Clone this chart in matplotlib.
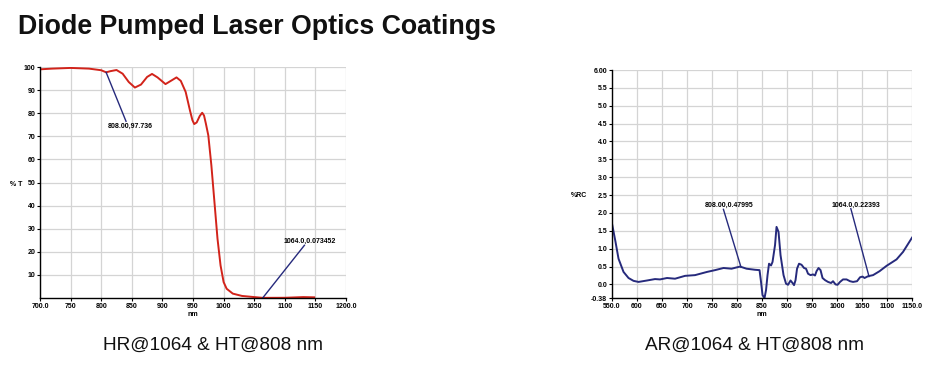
#!/usr/bin/env python3
"""Diode pumped laser optics coatings: HR/HT transmission and AR reflection curves."""

import matplotlib

matplotlib.use("Agg")
import matplotlib.pyplot as plt

plt.rcParams["font.family"] = ["Liberation Sans", "DejaVu Sans"]

# HR@1064 & HT@808 transmission (%T)
ht_nm = [700, 720, 750, 780, 800, 808, 815, 825, 835, 845, 855, 865, 875, 883,
         892, 905, 915, 923, 930, 938, 945, 949, 952, 956, 961, 965, 968, 971,
         975, 980, 985, 990, 995, 1000, 1005, 1015, 1030, 1050, 1064, 1100,
         1130, 1148]
ht_t = [99.0, 99.3, 99.6, 99.3, 98.6, 97.7, 98.2, 98.7, 97.1, 93.5, 91.1, 92.4,
        95.7, 97.0, 95.5, 92.6, 94.2, 95.5, 94.0, 89.2, 81.2, 77.0, 75.3, 76.0,
        78.8, 80.2, 79.0, 75.5, 70.4, 57.4, 41.6, 25.7, 14.1, 6.9, 4.0, 1.9,
        0.9, 0.4, 0.07, 0.1, 0.4, 0.3]

# AR@1064 & HT@808 reflection (%RC)
ar_nm = [550, 557, 563, 573, 583, 593, 603, 620, 636, 646, 660, 676, 696, 716,
         740, 756, 773, 789, 806, 819, 836, 845, 848, 851, 855, 858, 861, 864,
         868, 871, 876, 879, 883, 887, 893, 898, 902, 907, 911, 914, 917, 920,
         924, 929, 934, 938, 942, 947, 952, 956, 959, 963, 967, 971, 976, 982,
         988, 992, 997, 1001, 1006, 1012, 1019, 1026, 1032, 1040, 1046, 1051,
         1055, 1062, 1072, 1085, 1099, 1119, 1132, 1150]
ar_r = [1.70, 1.19, 0.72, 0.35, 0.18, 0.10, 0.07, 0.11, 0.15, 0.14, 0.18, 0.16,
        0.24, 0.26, 0.35, 0.40, 0.46, 0.44, 0.50, 0.44, 0.41, 0.40, 0.07, -0.30,
        -0.38, -0.16, 0.26, 0.58, 0.53, 0.63, 1.10, 1.61, 1.47, 0.82, 0.26, 0.02,
        -0.01, 0.11, 0.04, -0.02, 0.12, 0.44, 0.58, 0.55, 0.46, 0.44, 0.30, 0.26,
        0.28, 0.25, 0.37, 0.46, 0.40, 0.18, 0.12, 0.07, 0.04, 0.09, 0.0, -0.01,
        0.07, 0.14, 0.14, 0.09, 0.07, 0.09, 0.20, 0.22, 0.18, 0.23, 0.26, 0.37,
        0.52, 0.70, 0.91, 1.31]

ht_xticks = [700, 750, 800, 850, 900, 950, 1000, 1050, 1100, 1150, 1200]
ht_xlabels = ["700.0", "750", "800", "850", "900", "950", "1000", "1050",
              "1100", "1150", "1200.0"]
ht_yticks = [10, 20, 30, 40, 50, 60, 70, 80, 90, 100]

ar_xticks = [550, 600, 650, 700, 750, 800, 850, 900, 950, 1000, 1050, 1100, 1150]
ar_xlabels = ["550.0", "600", "650", "700", "750", "800", "850", "900", "950",
              "1000", "1050", "1100", "1150.0"]
ar_yticks = [-0.38, 0.0, 0.5, 1.0, 1.5, 2.0, 2.5, 3.0, 3.5, 4.0, 4.5, 5.0, 5.5, 6.0]
ar_ylabels = ["-0.38", "0.0", "0.5", "1.0", "1.5", "2.0", "2.5", "3.0", "3.5",
              "4.0", "4.5", "5.0", "5.5", "6.00"]

RED = "#d2231a"
NAVY = "#262a7c"
TICK_FONT = dict(fontsize=5.0, fontweight="bold")


def style_axes(ax):
    ax.grid(True, color="#d4d4d4", linewidth=0.9)
    ax.set_axisbelow(True)
    for side in ("top", "right"):
        ax.spines[side].set_visible(False)
    for side in ("left", "bottom"):
        ax.spines[side].set_color("black")
        ax.spines[side].set_linewidth(1.0)
    ax.tick_params(length=2, width=0.8, pad=1.5, color="black")
    for lab in ax.get_xticklabels() + ax.get_yticklabels():
        lab.set_fontsize(TICK_FONT["fontsize"])
        lab.set_fontweight(TICK_FONT["fontweight"])


fig = plt.figure(figsize=(9.42, 3.79), dpi=100)

# left panel
ax1 = fig.add_axes([0.0425, 0.2137, 0.3248, 0.6095])
ax1.plot(ht_nm, ht_t, color=RED, linewidth=1.4)
ax1.set_xlim(700, 1200)
ax1.set_ylim(0, 100)
ax1.set_xticks(ht_xticks)
ax1.set_xticklabels(ht_xlabels)
ax1.set_yticks(ht_yticks)
ax1.set_yticklabels([str(v) for v in ht_yticks])
style_axes(ax1)
ax1.plot([808, 840.5], [97.7, 76.5], color=NAVY, linewidth=1.0)
ax1.text(811, 74.5, "808.00,97.736", ha="left", va="center", **TICK_FONT)
ax1.plot([1064, 1132], [0.07, 22.8], color=NAVY, linewidth=1.0)
ax1.text(1097.5, 24.5, "1064.0,0.073452", ha="left", va="center", **TICK_FONT)
ax1.text(-0.058, 0.49, "% T", transform=ax1.transAxes, ha="right", va="center",
         **TICK_FONT)
ax1.text(0.5, -0.055, "nm", transform=ax1.transAxes, ha="center", va="top",
         **TICK_FONT)

# right panel
ax2 = fig.add_axes([0.6497, 0.2137, 0.3185, 0.6016])
ax2.plot(ar_nm, ar_r, color=NAVY, linewidth=1.4)
ax2.set_xlim(550, 1150)
ax2.set_ylim(-0.38, 6.0)
ax2.set_xticks(ar_xticks)
ax2.set_xticklabels(ar_xlabels)
ax2.set_yticks(ar_yticks)
ax2.set_yticklabels(ar_ylabels)
style_axes(ax2)
ax2.plot([808, 772.8], [0.48, 2.10], color=NAVY, linewidth=1.0)
ax2.text(735, 2.21, "808.00,0.47995", ha="left", va="center", **TICK_FONT)
ax2.plot([1064, 1027.6], [0.22, 2.12], color=NAVY, linewidth=1.0)
ax2.text(989, 2.21, "1064.0,0.22393", ha="left", va="center", **TICK_FONT)
ax2.text(-0.11, 0.45, "%RC", transform=ax2.transAxes, ha="center", va="center",
         **TICK_FONT)
ax2.text(0.5, -0.055, "nm", transform=ax2.transAxes, ha="center", va="top",
         **TICK_FONT)

fig.text(0.019, 0.93, "Diode Pumped Laser Optics Coatings", fontsize=19.3,
         fontweight="bold", ha="left", va="center", color="#111111")
fig.text(0.226, 0.09, "HR@1064 & HT@808 nm", fontsize=13.7, ha="center",
         va="center", color="#111111")
fig.text(0.801, 0.09, "AR@1064 & HT@808 nm", fontsize=13.7, ha="center",
         va="center", color="#111111")

fig.savefig("out.png", dpi=100)
plt.close(fig)
print("wrote out.png")
